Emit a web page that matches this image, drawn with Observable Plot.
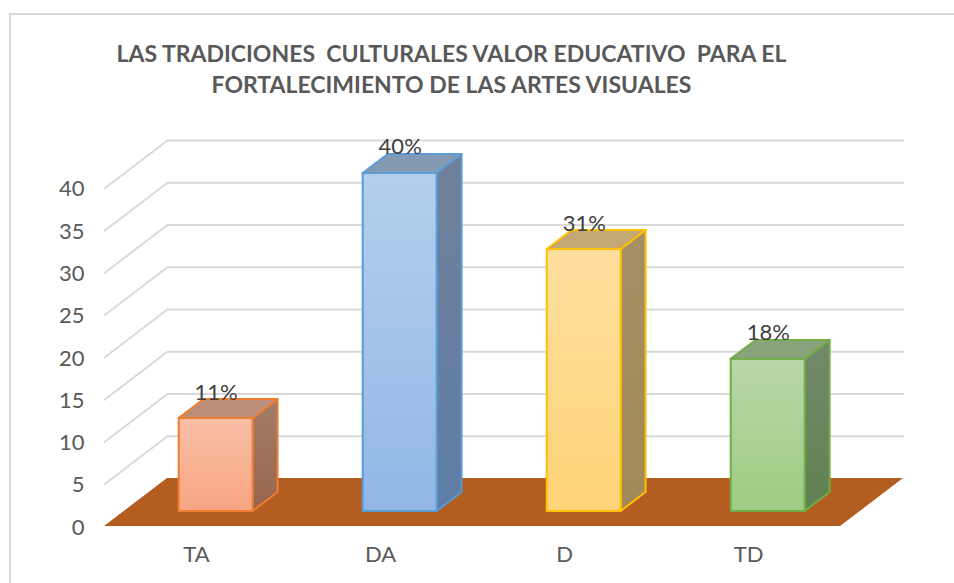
<!DOCTYPE html>
<html lang="es">
<head>
<meta charset="utf-8">
<script src="https://cdn.jsdelivr.net/npm/d3@7"></script>
<script src="https://cdn.jsdelivr.net/npm/@observablehq/plot@0.6"></script>
<style>
  html, body { margin: 0; padding: 0; background: #fff; overflow: hidden; }
  #page { position: relative; width: 954px; height: 583px; }
  #edge { position: absolute; left: 9px; top: 13px; right: 0; bottom: 0; border-left: 2px solid #d9d9d9; border-top: 2px solid #d9d9d9; }
  #title { position: relative; height: 110px; box-sizing: border-box; padding-top: 38px; text-align: center; white-space: pre; padding-right: 51px;
    font: 700 23px/31px Lato, sans-serif; color: #595959; }
  #chart { position: relative; }
  #chart svg { display: block; }
</style>
</head>
<body>
<div id="page">
  <div id="edge"></div>
  <div id="title"></div>
  <div id="chart"></div>
</div>
<script>
const titleLines = ["LAS TRADICIONES  CULTURALES VALOR EDUCATIVO  PARA EL", "FORTALECIMIENTO DE LAS ARTES VISUALES"];
const categories = ["TA", "DA", "D", "TD"];
const values = [11, 40, 31, 18];
const labels = ["11%", "40%", "31%", "18%"];
const yTicks = [0, 5, 10, 15, 20, 25, 30, 35, 40];
const strokes = ["#ed7d31", "#5b9bd5", "#ffc000", "#70ad47"];
const frontTop = ["#f9bfa6", "#b3cfec", "#ffdf9f", "#b8d7a8"];
const frontBottom = ["#f8a582", "#92b7e6", "#ffd478", "#9fcb82"];
const sideTop = ["#a27d69", "#6f8199", "#a59066", "#74896c"];
const sideBottom = ["#98654d", "#5e7da6", "#a08a58", "#5f8150"];
const topFace = ["#bb8f7a", "#8499b2", "#c3a874", "#8ba37d"];
const floorColor = "#b35d20";
const gridColor = "#d9d9d9";

// Oblique 3D box: depth is expressed in the units of each axis
const depthX = 0.342, depthY = 5.67;
const barWidth = 0.402, barNear = 0.3125, barFar = 0.708;

document.getElementById("title").textContent = titleLines.join("\n");

const defs = () => {
  const d = d3.create("svg:defs");
  categories.forEach((_, i) => {
    [["front", frontTop, frontBottom], ["side", sideTop, sideBottom]].forEach(([n, a, b]) => {
      const g = d.append("linearGradient").attr("id", `${n}${i}`).attr("x1", 0).attr("y1", 0).attr("x2", 0).attr("y2", 1);
      g.append("stop").attr("offset", "0%").attr("stop-color", a[i]);
      g.append("stop").attr("offset", "100%").attr("stop-color", b[i]);
    });
  });
  return d.node();
};

const gridRows = yTicks.filter(v => v > 0).flatMap(v => [
  {v, x: 0, y: v},
  {v, x: depthX, y: v + depthY},
  {v, x: 4 + depthX, y: v + depthY}
]);
const floor = [
  {y: 0, x1: 0, x2: 4},
  {y: depthY, x1: depthX, x2: 4 + depthX}
];

const barMarks = categories.flatMap((c, i) => {
  const v = values[i];
  const xL = i + 0.5 - barWidth / 2 + barNear * depthX;
  const xR = xL + barWidth;
  const y0 = barNear * depthY;
  const yT = v + y0;
  const dX = (barFar - barNear) * depthX;
  const dY = (barFar - barNear) * depthY;
  const stroke = strokes[i];
  return [
    Plot.areaY([{x: xR, y1: y0, y2: yT}, {x: xR + dX, y1: y0 + dY, y2: yT + dY}],
      {x: "x", y1: "y1", y2: "y2", fill: `url(#side${i})`, stroke, strokeWidth: 2, strokeLinejoin: "round"}),
    Plot.areaX([{y: yT, x1: xL, x2: xR}, {y: yT + dY, x1: xL + dX, x2: xR + dX}],
      {y: "y", x1: "x1", x2: "x2", fill: topFace[i], stroke, strokeWidth: 2, strokeLinejoin: "round"}),
    Plot.rect([{x1: xL, x2: xR, y1: y0, y2: yT}],
      {x1: "x1", x2: "x2", y1: "y1", y2: "y2", fill: `url(#front${i})`, stroke, strokeWidth: 2}),
    Plot.text([{x: xL + barWidth / 2, y: yT, t: labels[i]}],
      {x: "x", y: "y", text: "t", dy: -26, fill: "#404040", fontSize: 22, stroke: "none"})
  ];
});

const plot = Plot.plot({
  width: 954,
  height: 473,
  marginLeft: 104,
  marginRight: 51,
  marginTop: 30,
  marginBottom: 57,
  style: {background: "transparent", fontFamily: "Lato, sans-serif"},
  x: {domain: [0, 4 + depthX], range: [104, 903]},
  y: {domain: [0, 40 + depthY], range: [416, 30]},
  marks: [
    defs,
    Plot.line(gridRows, {x: "x", y: "y", z: "v", stroke: gridColor, strokeWidth: 2}),
    Plot.areaX(floor, {y: "y", x1: "x1", x2: "x2", fill: floorColor}),
    ...barMarks,
    Plot.axisY({ticks: yTicks, tickSize: 0, tickPadding: 20, fontSize: 22, dy: 1, color: "#595959", label: null, anchor: "left"}),
    Plot.axisX({ticks: [0.5, 1.5, 2.5, 3.5], tickFormat: d => categories[Math.floor(d)], tickSize: 0, tickPadding: 20, fontSize: 22, color: "#595959", label: null, anchor: "bottom"})
  ]
});
document.getElementById("chart").append(plot);
</script>
</body>
</html>
